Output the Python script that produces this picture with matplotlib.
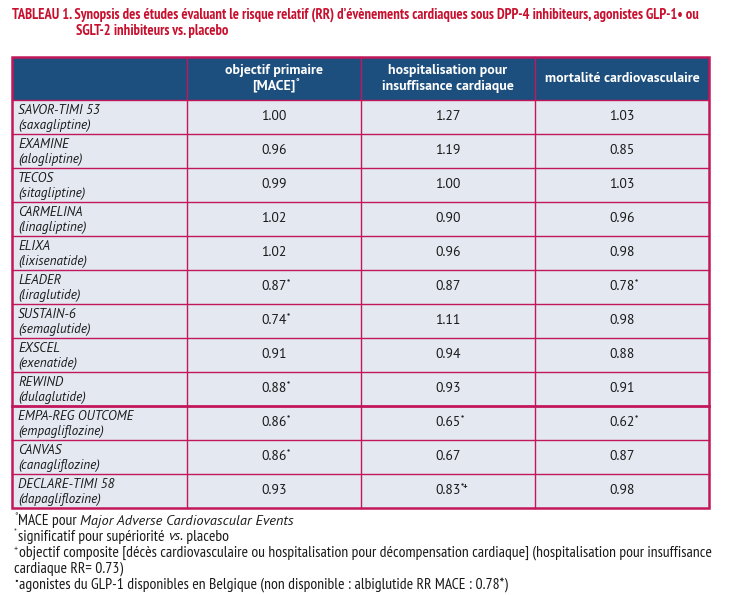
import matplotlib
matplotlib.use("Agg")
import matplotlib.pyplot as plt
from matplotlib import font_manager as fm
from matplotlib.patches import Rectangle

have = {f.name for f in fm.fontManager.ttflist}


def pick(*names):
    return next((n for n in names if n in have), 'DejaVu Sans')


# condensed face for title/footnotes, Myriad-like face for the cells
cond_font = pick('PT Sans Narrow', 'Fira Sans Condensed', 'Barlow Condensed', 'Asap Condensed')
body_font = pick('PT Sans', 'Fira Sans', 'Open Sans', 'Noto Sans')
plt.rcParams['font.family'] = [body_font, 'DejaVu Sans']

# data
studies = ["SAVOR-TIMI 53", "EXAMINE", "TECOS", "CARMELINA", "ELIXA", "LEADER",
           "SUSTAIN-6", "EXSCEL", "REWIND", "EMPA-REG OUTCOME", "CANVAS", "DECLARE-TIMI 58"]
drugs = ["saxagliptine", "alogliptine", "sitagliptine", "linagliptine", "lixisenatide",
         "liraglutide", "semaglutide", "exenatide", "dulaglutide", "empagliflozine",
         "canagliflozine", "dapagliflozine"]
mace = [1.00, 0.96, 0.99, 1.02, 1.02, 0.87, 0.74, 0.91, 0.88, 0.86, 0.86, 0.93]
mace_marks = ["", "", "", "", "", "*", "*", "", "*", "*", "*", ""]
hf = [1.27, 1.19, 1.00, 0.90, 0.96, 0.87, 1.11, 0.94, 0.93, 0.65, 0.67, 0.83]
hf_marks = ["", "", "", "", "", "", "", "", "", "*", "", "*+"]
cv = [1.03, 0.85, 1.03, 0.96, 0.98, 0.78, 0.98, 0.88, 0.91, 0.62, 0.87, 0.98]
cv_marks = ["", "", "", "", "", "*", "", "", "", "*", "", ""]

headers = [["objectif primaire", "[MACE]"], ["hospitalisation pour", "insuffisance cardiaque"],
           ["mortalité cardiovasculaire"]]
header_marks = ["°", "", ""]

title1 = ("TABLEAU 1. Synopsis des études évaluant le risque relatif (RR) d\u2019évènements "
          "cardiaques sous DPP-4 inhibiteurs, agonistes GLP-1\u2022 ou")
title2 = "SGLT-2 inhibiteurs vs. placebo"

footnotes = [
    [("°", "sup"), ("MACE pour ", "n"), ("Major Adverse Cardiovascular Events", "i")],
    [("*", "sup"), ("significatif pour supériorité ", "n"), ("vs.", "i"), (" placebo", "n")],
    [("+", "sup"), ("objectif composite [décès cardiovasculaire ou hospitalisation pour "
                    "décompensation cardiaque] (hospitalisation pour insuffisance", "n")],
    [("cardiaque RR= 0.73)", "n")],
    [("\u2022", "sup"), ("agonistes du GLP-1 disponibles en Belgique (non disponible : "
                         "albiglutide RR MACE : 0.78*)", "n")],
]

# colours
red = '#C8102E'
border = '#C2185B'
head_bg = '#1C4F7E'
cell_bg = '#E3E8F1'
txt = '#1a1a1a'

W, H = 743, 595
fig = plt.figure(figsize=(W / 100, H / 100), dpi=100)
ax = fig.add_axes([0, 0, 1, 1])
ax.set_xlim(0, W)
ax.set_ylim(H, 0)
ax.axis('off')
rend = fig.canvas.get_renderer()


def fit_size(s, width, **kw):
    # font size that makes string s about `width` pixels wide
    t = ax.text(0, 0, s, fontsize=10, **kw)
    w = t.get_window_extent(rend).width
    t.remove()
    return 10 * width / w


cond = [cond_font, 'DejaVu Sans']
title_fs = fit_size(title1, 688, fontweight='bold', family=cond)
cell_fs = fit_size("EMPA-REG OUTCOME", 116, style='italic')
val_fs = cell_fs * 1.03
head_fs = fit_size("mortalité cardiovasculaire", 155, fontweight='bold')
foot_fs = fit_size(footnotes[2][1][0], 690, family=cond)
foot_it_fs = foot_fs * 0.92
sup_fs = val_fs * 0.6

# title
ax.text(12, 15, title1, color=red, fontsize=title_fs, fontweight='bold', va='center', ha='left',
        family=cond)
ax.text(76, 31, title2, color=red, fontsize=title_fs, fontweight='bold', va='center', ha='left',
        family=cond)

# table geometry
col_x = [12, 187, 361, 535, 709]
top, head_h, row_h = 57, 43, 34
n = len(studies)
bottom = top + head_h + n * row_h

ax.add_patch(Rectangle((col_x[0], top), col_x[-1] - col_x[0], head_h, facecolor=head_bg,
                       edgecolor='none'))
ax.add_patch(Rectangle((col_x[0], top + head_h), col_x[-1] - col_x[0], n * row_h,
                       facecolor=cell_bg, edgecolor='none'))

for i, lines in enumerate(headers):
    cx = (col_x[i + 1] + col_x[i + 2]) / 2
    ym = top + head_h / 2
    ys = [ym] if len(lines) == 1 else [ym - 8, ym + 8]
    for line, y in zip(lines, ys):
        t = ax.text(cx, y, line, color='white', fontsize=head_fs, fontweight='bold',
                    ha='center', va='center')
    if header_marks[i]:
        ax.annotate(header_marks[i], xy=(1, 0.55), xycoords=t, color='white', fontsize=sup_fs,
                    fontweight='bold', ha='left', va='bottom')


def value_cell(x, y, v, mark):
    t = ax.text(x, y, f"{v:.2f}", color=txt, fontsize=val_fs, ha='center', va='center')
    if mark:
        ax.annotate(mark, xy=(1, 0.5), xycoords=t, color=txt, fontsize=sup_fs,
                    ha='left', va='bottom', fontweight='bold')


for r in range(n):
    y0 = top + head_h + r * row_h
    ym = y0 + row_h / 2
    ax.text(col_x[0] + 6, y0 + 10, studies[r], color=txt, fontsize=cell_fs, style='italic',
            ha='left', va='center')
    ax.text(col_x[0] + 6, y0 + 25, f"({drugs[r]})", color=txt, fontsize=cell_fs, style='italic',
            ha='left', va='center')
    for c, (vals, marks) in enumerate([(mace, mace_marks), (hf, hf_marks), (cv, cv_marks)]):
        cx = (col_x[c + 1] + col_x[c + 2]) / 2
        value_cell(cx, ym, vals[r], marks[r])

# grid lines
for r in range(1, n):
    y = top + head_h + r * row_h
    lw = 2.0 if r == 9 else 1.0
    ax.plot([col_x[0], col_x[-1]], [y, y], color=border, lw=lw)
ax.plot([col_x[0], col_x[-1]], [top + head_h, top + head_h], color=border, lw=1.0)
for x in col_x[1:-1]:
    ax.plot([x, x], [top, bottom], color=border, lw=1.0)
ax.add_patch(Rectangle((col_x[0], top), col_x[-1] - col_x[0], bottom - top, facecolor='none',
                       edgecolor=border, lw=1.8))

# footnotes
fy = 521
for line in footnotes:
    x = 14
    for s, kind in line:
        if kind == "sup":
            t = ax.text(x, fy - 4, s, color=txt, fontsize=sup_fs, ha='left', va='center')
        elif kind == "i":
            t = ax.text(x, fy, s, color=txt, fontsize=foot_it_fs, ha='left', va='center',
                        style='italic')
        else:
            t = ax.text(x, fy, s, color=txt, fontsize=foot_fs, ha='left', va='center',
                        family=cond)
        bb = t.get_window_extent(rend)
        x += bb.width + (1 if kind == "sup" else 0)
    fy += 16

fig.savefig("out.png", dpi=100)
